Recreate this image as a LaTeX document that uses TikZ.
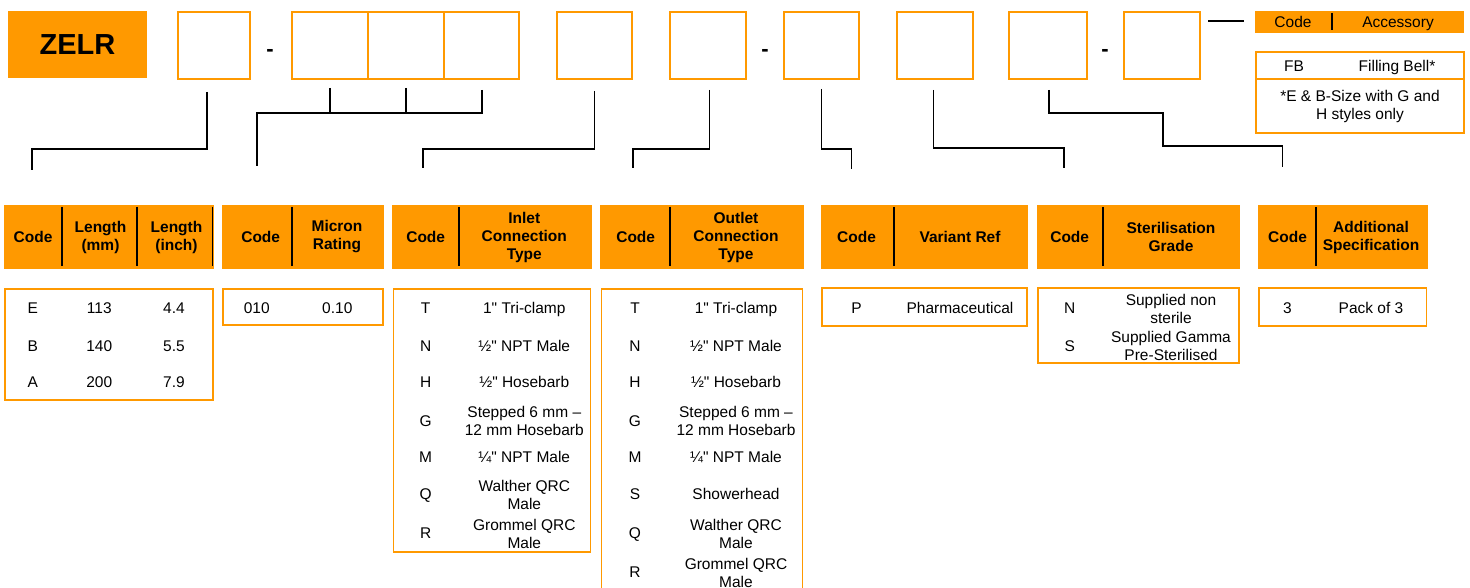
\documentclass[tikz,border=0pt]{standalone}
\usepackage{fontspec}
\setmainfont{Liberation Sans}[Ligatures=TeXOff]
\usetikzlibrary{calc}
\definecolor{zorange}{RGB}{255,153,0}

\begin{document}
\begin{tikzpicture}[x=1pt,y=-1pt,
    font=\fontsize{15.5}{18}\selectfont,
    selbox/.style={draw=zorange,line width=1.5pt,minimum height=67pt,inner sep=0pt},
    headbox/.style={fill=zorange,minimum height=64pt,inner sep=0pt},
    bodybox/.style={draw=zorange,line width=1.5pt,inner sep=0pt},
    head/.style={font=\fontsize{15.5}{18}\selectfont\bfseries,align=center,inner sep=0pt},
    headone/.style={head,text height=11.1pt,text depth=0pt},
    cell/.style={align=center,inner sep=0pt},
    cellone/.style={cell,text height=11.1pt,text depth=0pt},
    dashmark/.style={font=\fontsize{22}{24}\selectfont\bfseries,anchor=base,inner sep=0pt},
    sep/.style={line width=1.4pt},
    link/.style={line width=1.4pt}]
                \useasboundingbox (0,0) rectangle (1470,588);
                % part number
                \node[fill=zorange,minimum width=139pt,minimum height=67pt,font=\fontsize{29}{34}\selectfont\bfseries] (zelr) at (77.5,44.5) {ZELR};
                \node[selbox,minimum width=72pt] (s1) at (214,45.5) {};
                \node[dashmark] (d1) at (270,57) {-};
                \node[selbox,minimum width=76pt] (s2) at (330,45.5) {};
                \node[selbox,minimum width=76pt] (s3) at (406,45.5) {};
                \node[selbox,minimum width=75pt] (s4) at (481.5,45.5) {};
                \node[selbox,minimum width=75pt] (s5) at (594.5,45.5) {};
                \node[selbox,minimum width=76pt] (s6) at (708,45.5) {};
                \node[dashmark] (d2) at (765,57) {-};
                \node[selbox,minimum width=75pt] (s7) at (821.5,45.5) {};
                \node[selbox,minimum width=76pt] (s8) at (935,45.5) {};
                \node[selbox,minimum width=78pt] (s9) at (1048,45.5) {};
                \node[dashmark] (d3) at (1105,57) {-};
                \node[selbox,minimum width=76pt] (s10) at (1162,45.5) {};
                % accessory
                \coordinate (a1) at (1208,21);
                \draw[link] (a1) -- ++(36,0);
                \node[fill=zorange,minimum width=209pt,minimum height=22pt,inner sep=0pt] (acc) at (1359.5,22) {};
                \draw[sep] (1332,13) -- (1332,30);
                \node[cellone] (acc1) at (1293,22) {Code};
                \node[cellone] (acc2) at (1398,22) {Accessory};
                \node[bodybox,minimum width=208pt,minimum height=81pt] (accb) at (1360,92.5) {};
                \draw[line width=1.5pt,zorange] (1256,79) -- (1464,79);
                \node[cellone] (fb1) at (1294,66) {FB};
                \node[cellone] (fb2) at (1397,66) {Filling Bell*};
                \node[cell] (fbn) at (1360,106.5) {*E \& B-Size with G and\\H styles only};
                % connectors
                \coordinate (t1) at (207,92);
                \coordinate (e1) at (32,170);
                \draw[link] (t1) -- ++(0,57) -| (e1);
                \coordinate (t2a) at (330,88);
                \coordinate (t2b) at (406,88);
                \coordinate (t2c) at (482,90);
                \coordinate (e2) at (257,166);
                \draw[link] (t2a) -- ++(0,25);
                \draw[link] (t2b) -- ++(0,25);
                \draw[link] (t2c) -- ++(0,23) -| (e2);
                \coordinate (t3) at (594.5,91);
                \coordinate (e3) at (423,168);
                \draw[link] (t3) -- ++(0,58) -| (e3);
                \coordinate (t4) at (709.5,90);
                \coordinate (e4) at (633,168);
                \draw[link] (t4) -- ++(0,59) -| (e4);
                \coordinate (t5) at (821.7,89);
                \coordinate (e5) at (851.7,169);
                \draw[link] (t5) -- ++(0,60) -| (e5);
                \coordinate (t6) at (933.3,90);
                \coordinate (e6) at (1064,168);
                \draw[link] (t6) -- ++(0,58) -| (e6);
                \coordinate (t7) at (1049,90);
                \coordinate (e7) at (1282.7,167);
                \draw[link] (t7) -- ++(0,23) -| ++(114,33) -| (e7);
                % length
                \node[headbox,minimum width=210pt] (h1) at (109,237) {};
                \draw[sep] (62,207) -- (62,266);
                \draw[sep] (137,207) -- (137,266);
                \draw[sep] (212.5,207) -- (212.5,266);
                \node[headone] (h1a) at (33,237) {Code};
                \node[head] (h1b) at (100.5,237) {Length\\(mm)};
                \node[head] (h1c) at (176.5,237) {Length\\(inch)};
                \node[bodybox,minimum width=208pt,minimum height=111pt] (b1) at (109,344.5) {};
                \node[cellone] (b1a1) at (32.7,307.7) {E};
                \node[cellone] (b1a2) at (99.3,307.7) {113};
                \node[cellone] (b1a3) at (174,307.7) {4.4};
                \node[cellone] (b1b1) at (32.7,345.7) {B};
                \node[cellone] (b1b2) at (99.3,345.7) {140};
                \node[cellone] (b1b3) at (174,345.7) {5.5};
                \node[cellone] (b1c1) at (32.7,382.3) {A};
                \node[cellone] (b1c2) at (99.3,382.3) {200};
                \node[cellone] (b1c3) at (174,382.3) {7.9};
                % micron
                \node[headbox,minimum width=162pt] (h2) at (303,237) {};
                \draw[sep] (292,207) -- (292,266);
                \node[headone] (h2a) at (260.7,237) {Code};
                \node[head] (h2b) at (337,237) {Micron\\Rating};
                \node[bodybox,minimum width=160pt,minimum height=36pt] (b2) at (303,307) {};
                \node[cellone] (b2a1) at (256.7,307.7) {010};
                \node[cellone] (b2a2) at (337.3,307.7) {0.10};
                % inlet
                \node[headbox,minimum width=200pt] (h3) at (492,237) {};
                \draw[sep] (459,207) -- (459,266);
                \node[headone] (h3a) at (425.7,237) {Code};
                \node[head] (h3b) at (524.3,237) {Inlet\\Connection\\Type};
                \node[bodybox,minimum width=197pt,minimum height=263pt] (b3) at (492,420.5) {};
                \node[cellone] (b3a1) at (425.7,307.7) {T};
                \node[cellone] (b3a2) at (524.3,307.7) {1" Tri-clamp};
                \node[cellone] (b3b1) at (425.7,345.7) {N};
                \node[cellone] (b3b2) at (524.3,345.7) {½" NPT Male};
                \node[cellone] (b3c1) at (425.7,382.3) {H};
                \node[cellone] (b3c2) at (524.3,382.3) {½" Hosebarb};
                \node[cellone] (b3d1) at (425.7,420.7) {G};
                \node[cell] (b3d2) at (524.3,421) {Stepped 6 mm –\\12 mm Hosebarb};
                \node[cellone] (b3e1) at (425.7,457.3) {M};
                \node[cellone] (b3e2) at (524.3,457.3) {¼" NPT Male};
                \node[cellone] (b3f1) at (425.7,494.3) {Q};
                \node[cell] (b3f2) at (524.3,495) {Walther QRC\\Male};
                \node[cellone] (b3g1) at (425.7,533.3) {R};
                \node[cell] (b3g2) at (524.3,534) {Grommel QRC\\Male};
                % outlet
                \node[headbox,minimum width=204pt] (h4) at (702,237) {};
                \draw[sep] (670,207) -- (670,266);
                \node[headone] (h4a) at (635.7,237) {Code};
                \node[head] (h4b) at (736,237) {Outlet\\Connection\\Type};
                \draw[zorange,line width=1.5pt] (601.5,592) |- (802.5,289) -- (802.5,592);
                \node[cellone] (b4a1) at (635,307.7) {T};
                \node[cellone] (b4a2) at (736,307.7) {1" Tri-clamp};
                \node[cellone] (b4b1) at (635,345.7) {N};
                \node[cellone] (b4b2) at (736,345.7) {½" NPT Male};
                \node[cellone] (b4c1) at (635,382.3) {H};
                \node[cellone] (b4c2) at (736,382.3) {½" Hosebarb};
                \node[cellone] (b4d1) at (635,420.7) {G};
                \node[cell] (b4d2) at (736,421) {Stepped 6 mm –\\12 mm Hosebarb};
                \node[cellone] (b4e1) at (635,457.3) {M};
                \node[cellone] (b4e2) at (736,457.3) {¼" NPT Male};
                \node[cellone] (b4f1) at (635,494.3) {S};
                \node[cellone] (b4f2) at (736,494.3) {Showerhead};
                \node[cellone] (b4g1) at (635,533.3) {Q};
                \node[cell] (b4g2) at (736,534) {Walther QRC\\Male};
                \node[cellone] (b4h1) at (635,572.3) {R};
                \node[cell] (b4h2) at (736,572.5) {Grommel QRC\\Male};
                % variant
                \node[headbox,minimum width=207pt] (h5) at (924.5,237) {};
                \draw[sep] (894,207) -- (894,266);
                \node[headone] (h5a) at (856.6,237) {Code};
                \node[headone] (h5b) at (960,237) {Variant Ref};
                \node[bodybox,minimum width=205pt,minimum height=38pt] (b5) at (924.5,307) {};
                \node[cellone] (b5a1) at (856.6,307.7) {P};
                \node[cellone] (b5a2) at (960,307.7) {Pharmaceutical};
                % sterilisation
                \node[headbox,minimum width=203pt] (h6) at (1138.5,237) {};
                \draw[sep] (1103,207) -- (1103,266);
                \node[headone] (h6a) at (1069.7,237) {Code};
                \node[head] (h6b) at (1171,237) {Sterilisation\\Grade};
                \node[bodybox,minimum width=201pt,minimum height=75pt] (b6) at (1138.5,325.5) {};
                \node[cellone] (b6a1) at (1069.7,307.7) {N};
                \node[cell] (b6a2) at (1171,308.5) {Supplied non\\sterile};
                \node[cellone] (b6b1) at (1069.7,345.7) {S};
                \node[cell] (b6b2) at (1171,346) {Supplied Gamma\\Pre-Sterilised};
                % additional
                \node[headbox,minimum width=170pt] (h7) at (1343,237) {};
                \draw[sep] (1316,207) -- (1316,266);
                \node[headone] (h7a) at (1287.5,237) {Code};
                \node[head] (h7b) at (1371,237) {Additional\\Specification};
                \node[bodybox,minimum width=167.5pt,minimum height=38pt] (b7) at (1342.75,307) {};
                \node[cellone] (b7a1) at (1287.5,307.7) {3};
                \node[cellone] (b7a2) at (1371,307.7) {Pack of 3};
            \end{tikzpicture}
\end{document}
